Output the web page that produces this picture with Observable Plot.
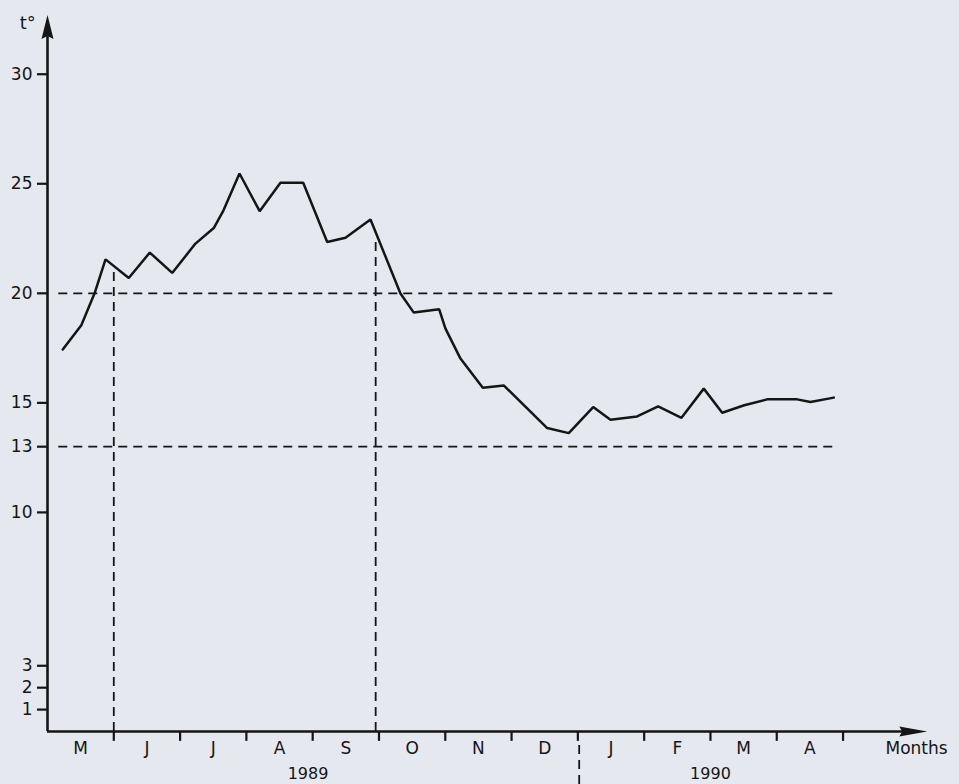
<!DOCTYPE html>
<html>
<head>
<meta charset="utf-8">
<script src="https://cdn.jsdelivr.net/npm/d3@7"></script>
<script src="https://cdn.jsdelivr.net/npm/@observablehq/plot@0.6"></script>
<style>
  html, body { margin: 0; padding: 0; background: #e5e8ee; }
  #chart svg { display: block; }
</style>
</head>
<body>
<div id="chart"></div>
<script>
// Month labels (May 1989 – April 1990)
const monthLabels = ["M", "J", "J", "A", "S", "O", "N", "D", "J", "F", "M", "A"];
const monthBoundaries = [1, 2, 3, 4, 5, 6, 7, 8, 9, 10, 11, 12];
const yearLabels = ["1989", "1990"];
const yearCenters = [3.93, 10.0];
const yearSeparator = [8.02];

// time in months since 1 May 1989
const monthIndex = [0.23, 0.51, 0.71, 0.875, 1.226, 1.543, 1.881, 2.232, 2.508, 2.655, 2.896, 3.20,
  3.514, 3.857, 4.219, 4.495, 4.872, 5.324, 5.525, 5.908, 6.003, 6.229, 6.566, 6.885,
  7.537, 7.863, 8.231, 8.492, 8.894, 9.211, 9.563, 9.899, 10.177, 10.51, 10.855, 11.308, 11.508, 11.86];
// temperature, °C
const temperature = [17.44, 18.54, 20.0, 21.55, 20.70, 21.86, 20.93, 22.27, 22.98, 23.79, 25.47, 23.75,
  25.05, 25.05, 22.34, 22.54, 23.37, 19.99, 19.12, 19.27, 18.39, 17.02, 15.69, 15.79,
  13.85, 13.62, 14.81, 14.23, 14.38, 14.84, 14.32, 15.65, 14.55, 14.89, 15.16, 15.16, 15.04, 15.24];

const yTicks = [1, 2, 3, 10, 13, 15, 20, 25, 30];
const thresholds = [20, 13];
const thresholdSpan = [0.17, 11.88];
const markerMonths = [1.0, 4.95];
const markerTops = [21.0, 22.4];

const series = monthIndex.map((m, i) => ({m, t: temperature[i]}));
const months = monthLabels.map((label, i) => ({label, mid: i + 0.5}));
const years = yearLabels.map((label, i) => ({label, m: yearCenters[i]}));
const markers = markerMonths.map((m, i) => ({m, top: markerTops[i]}));

const ink = "#151515";
const arrowUp = {draw(ctx) { ctx.moveTo(0, 0); ctx.lineTo(-6, 24); ctx.lineTo(0, 21); ctx.lineTo(6, 24); ctx.closePath(); }};
const arrowRight = {draw(ctx) { ctx.moveTo(0, 0); ctx.lineTo(-28, -5); ctx.lineTo(-25, 0); ctx.lineTo(-28, 5); ctx.closePath(); }};

const xEnd = 13.27, yEnd = 32.7;

const chart = Plot.plot({
  width: 959,
  height: 784,
  marginLeft: 47,
  marginRight: 17,
  marginTop: 8,
  marginBottom: 53,
  style: {fontFamily: "DejaVu Sans, sans-serif", fontSize: "16px", background: "#e5e8ee", color: ink},
  x: {domain: [0, 13.5], axis: null},
  y: {domain: [0, 33]},
  marks: [
    // threshold dashed lines
    Plot.ruleY(thresholds, {x1: thresholdSpan[0], x2: thresholdSpan[1], stroke: ink, strokeWidth: 1.8, strokeDasharray: "9,6"}),
    // vertical dashed markers
    Plot.ruleX(markers, {x: "m", y1: 0, y2: "top", stroke: ink, strokeWidth: 1.8, strokeDasharray: "9,6"}),
    // year separator below axis
    Plot.ruleX(yearSeparator, {y1: -0.64, y2: -2.45, stroke: ink, strokeWidth: 1.8, strokeDasharray: "9,6"}),
    // axes lines
    Plot.ruleY([0], {x1: 0, x2: xEnd - 0.3, stroke: ink, strokeWidth: 2.6}),
    Plot.ruleX([0], {y1: 0, y2: yEnd - 0.8, stroke: ink, strokeWidth: 2.6}),
    Plot.dot([{x: 0, y: yEnd}], {x: "x", y: "y", symbol: arrowUp, r: 5, fill: ink, stroke: "none"}),
    Plot.dot([{x: xEnd, y: 0}], {x: "x", y: "y", symbol: arrowRight, r: 5, fill: ink, stroke: "none"}),
    // y axis ticks and labels
    Plot.axisY({ticks: yTicks, tickSize: 10, tickPadding: 5, strokeWidth: 2.2, fontSize: 17, tickFormat: d => String(d), label: null}),
    // x axis ticks at month boundaries
    Plot.ruleX(monthBoundaries, {x: d => d, y1: 0, y2: -0.45, stroke: ink, strokeWidth: 2.2}),
    // month labels
    Plot.text(months, {x: "mid", y: -0.8, text: "label", fontSize: 17, fill: ink}),
    // year labels
    Plot.text(years, {x: "m", y: -1.95, text: "label", fontSize: 16, fill: ink, style: "letter-spacing:2px"}),
    // axis titles
    Plot.text(["Months"], {x: 12.64, y: -0.8, text: d => d, textAnchor: "start", fontSize: 17, fill: ink, style: "letter-spacing:1.5px"}),
    Plot.text(["t°"], {x: -0.42, y: 32.35, text: d => d, textAnchor: "start", fontSize: 18, fill: ink}),
    // temperature line
    Plot.line(series, {x: "m", y: "t", stroke: ink, strokeWidth: 2.5, strokeLinejoin: "miter"})
  ]
});
document.getElementById("chart").appendChild(chart);
</script>
</body>
</html>
